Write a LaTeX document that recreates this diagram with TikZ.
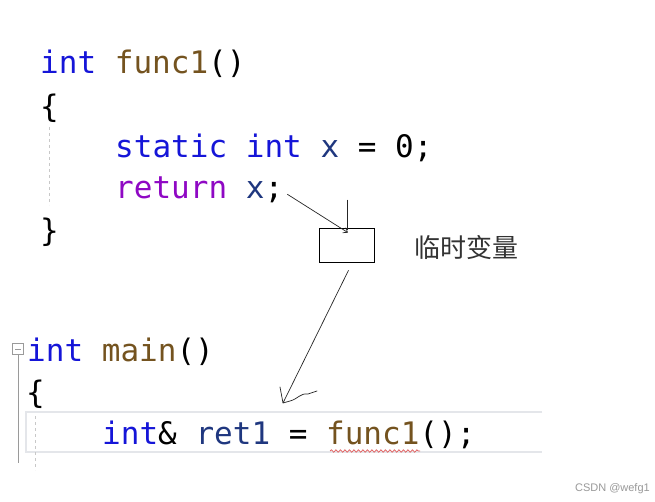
\documentclass[tikz,border=0pt]{standalone}
\usepackage{fontspec}
\setmonofont{DejaVu Sans Mono}
\setsansfont{Liberation Sans}
\newfontfamily\cjkfont{Noto Sans CJK SC}
\usetikzlibrary{arrows.meta, positioning, decorations.pathmorphing}
\definecolor{kwBlue}{HTML}{1515D8}
\definecolor{fnBrown}{HTML}{74531F}
\definecolor{varNavy}{HTML}{1F377F}
\definecolor{retPurple}{HTML}{8F08C4}
\definecolor{guideGray}{HTML}{C8C8C8}
\definecolor{lineGray}{HTML}{E4E6EA}
\definecolor{squigRed}{HTML}{E05858}
\definecolor{markGray}{HTML}{9A9A9A}
\newcommand{\cKw}[1]{\textcolor{kwBlue}{#1}}
\newcommand{\cFn}[1]{\textcolor{fnBrown}{#1}}
\newcommand{\cVar}[1]{\textcolor{varNavy}{#1}}

\begin{document}
\begin{tikzpicture}[x=1pt,y=-1pt,
    every node/.style={inner sep=0pt},
    code/.style={anchor=base west,font=\fontsize{31}{31}\selectfont\ttfamily},
    guide/.style={draw=guideGray,dashed,line width=.8pt},
    ink/.style={draw=black!85,line width=.7pt}]
  \useasboundingbox[fill=white] (0,0) rectangle (655,502);
  % func1
  \node[code] (f1) at (40,74) {\cKw{int} \cFn{func1}()};
  \node[code] (ob1) at (40,118) {\{};
  \node[code] (st) at (115,158) {\cKw{static} \cKw{int} \cVar{x} = 0;};
  \node[code] (ret) at (115,199) {\textcolor{retPurple}{return} \cVar{x};};
  \node[code] (cb1) at (40,242) {\}};
  \draw[guide] (49,127) -- (49,205);
  % temporary
  \node[draw,line width=.7pt,minimum width=55pt,minimum height=34pt] (tmp) at (346.5,245) {};
  \node[font=\cjkfont\fontsize{26}{26}\selectfont,text=black!80] (lbl) at (466,248) {临时变量};
  \draw[ink,-{Straight Barb[length=4pt,width=6pt]}] ([xshift=4pt,yshift=-4pt]ret.east) -- ([xshift=1.5pt,yshift=-5pt]tmp.north);
  \draw[ink] ([xshift=.5pt,yshift=28pt]tmp.north) -- ([xshift=.5pt,yshift=-2pt]tmp.north);
  % main
  \draw[draw=lineGray,line width=2.2pt] (542,412) -- (26,412) -- (26,452) -- (542,452);
  \node[draw=markGray,line width=.6pt,minimum size=11pt] (fold) at (18,349) {};
  \draw[markGray,line width=.6pt] ([xshift=-3pt]fold.center) -- ([xshift=3pt]fold.center);
  \draw[markGray,line width=1pt] (fold.south) -- (18,463);
  \node[code] (mn) at (27,361) {\cKw{int} \cFn{main}()};
  \node[code] (ob2) at (26,403) {\{};
  \node[code] (r1) at (102,444) {\cKw{int}\& \cVar{ret1} = \cFn{func1}();};
  \draw[guide] (35,416) -- (35,470);
  \draw[squigRed,line width=.7pt,decorate,decoration={snake,amplitude=1.2pt,segment length=4.5pt}] (330,451) -- (420,451);
  % hand arrow
  \coordinate (hit) at (283,403);
  \draw[ink] ([xshift=2pt,yshift=-8pt]tmp.south) -- (hit);
  \draw[ink,line cap=round,line join=round] (hit) ++(-3,-16) -- (hit) -- (290,401) .. controls (298,399) and (300,393) .. (308,394) -- (317,391);
  \node[font=\fontsize{11}{11}\selectfont\sffamily,text=black!40,anchor=east] (wm) at (650,489) {CSDN @wefg1};
\end{tikzpicture}
\end{document}
